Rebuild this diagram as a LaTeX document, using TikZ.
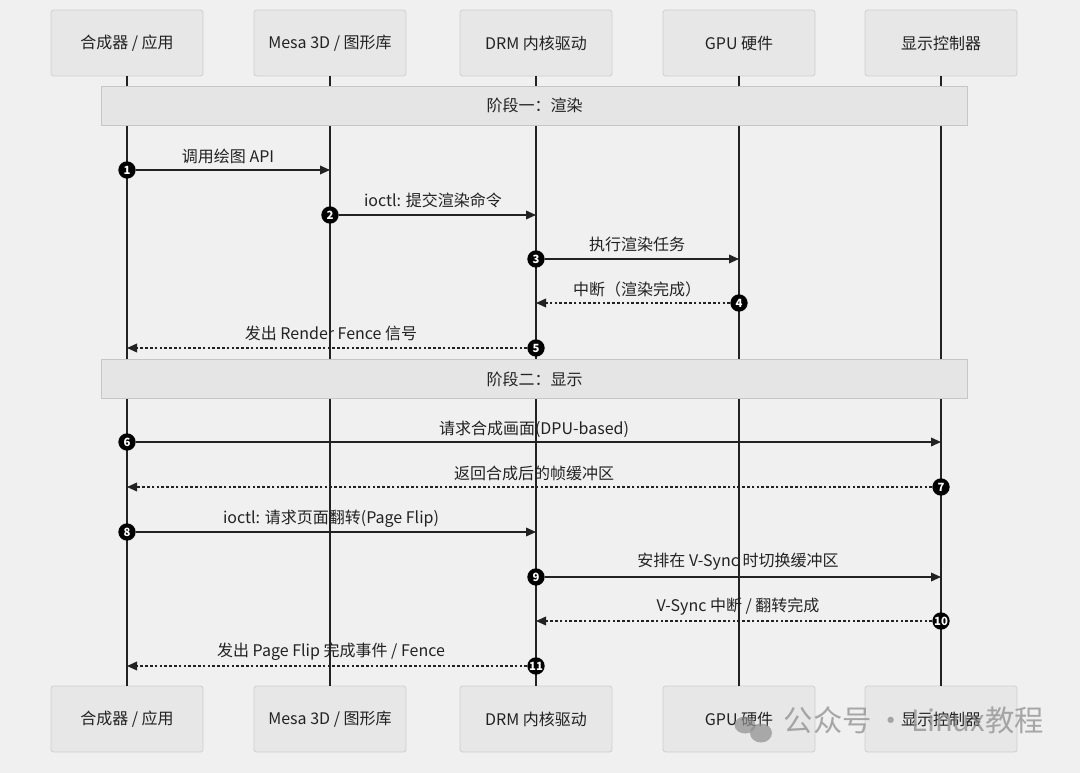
\documentclass[tikz,border=0pt]{standalone}
\usepackage{fontspec}
\setmainfont{Noto Sans CJK SC}
\usetikzlibrary{arrows.meta}
\definecolor{bgc}{HTML}{F0F0F0}
\definecolor{boxfill}{HTML}{E7E7E7}
\definecolor{boxline}{HTML}{CFCFCF}
\definecolor{bandfill}{HTML}{E5E5E5}
\definecolor{bandline}{HTML}{C6C6C6}
\definecolor{ink}{HTML}{222222}
\definecolor{wm}{HTML}{8E8E8E}
\tikzset{
  actor/.style={draw=boxline, fill=boxfill, rounded corners=2pt, minimum width=114pt, minimum height=49.5pt, inner sep=0pt, text=ink, line width=0.6pt},
  band/.style={draw=bandline, fill=bandfill, minimum width=650pt, minimum height=29.25pt, inner sep=0pt, text=ink, line width=0.6pt},
  life/.style={draw=ink, line width=1.1pt},
  msg/.style={draw=ink, line width=1.1pt, -{Triangle[length=7.5pt,width=6.5pt]}},
  rmsg/.style={msg, dash pattern=on 2pt off 1.6pt},
  num/.style={circle, fill=black, text=white, minimum size=13pt, inner sep=0pt, font=\fontsize{8.5}{9}\selectfont\bfseries},
  lbl/.style={text=ink, inner sep=1pt}
}
\begin{document}
\begin{tikzpicture}[x=0.75pt,y=-0.75pt, font=\fontsize{12}{14}\selectfont]
\fill[bgc] (0,0) rectangle (1080,773);
\useasboundingbox (0,0) rectangle (1080,773);

% actors
\node[actor] (t1) at (127,43) {合成器 / 应用};
\node[actor] (t2) at (330,43) {Mesa 3D / 图形库};
\node[actor] (t3) at (536,43) {DRM 内核驱动};
\node[actor] (t4) at (739,43) {GPU 硬件};
\node[actor] (t5) at (941,43) {显示控制器};
\node[actor] (b1) at (127,719) {合成器 / 应用};
\node[actor] (b2) at (330,719) {Mesa 3D / 图形库};
\node[actor] (b3) at (536,719) {DRM 内核驱动};
\node[actor] (b4) at (739,719) {GPU 硬件};
\node[actor] (b5) at (941,719) {显示控制器};

\foreach \i in {1,...,5} { \draw[life] (t\i.south) -- (b\i.north); }

% phase bands
\node[band] (p1) at (534.5,105.5) {阶段一：渲染};
\node[band] (p2) at (534.5,379) {阶段二：显示};

% messages
\coordinate (e1) at (330,170);
\coordinate (e2) at (536,215);
\coordinate (e3) at (739,259);
\coordinate (e4) at (536,303);
\coordinate (e5) at (127,348);
\coordinate (e6) at (941,442);
\coordinate (e7) at (127,487);
\coordinate (e8) at (536,532);
\coordinate (e9) at (941,577);
\coordinate (e10) at (536,621);
\coordinate (e11) at (127,666);

\node[num] (n1) at (127,170) {1};
\node[num] (n2) at (330,215) {2};
\node[num] (n3) at (536,259) {3};
\node[num] (n4) at (739,303) {4};
\node[num] (n5) at (536,348) {5};
\node[num] (n6) at (127,442) {6};
\node[num] (n7) at (941,487) {7};
\node[num] (n8) at (127,532) {8};
\node[num] (n9) at (536,577) {9};
\node[num] (n10) at (941,621) {10};
\node[num] (n11) at (536,666) {11};

\draw[msg] (n1) -- (e1);
\draw[msg] (n2) -- (e2);
\draw[msg] (n3) -- (e3);
\draw[rmsg] (n4) -- (e4);
\draw[rmsg] (n5) -- (e5);
\draw[msg] (n6) -- (e6);
\draw[rmsg] (n7) -- (e7);
\draw[msg] (n8) -- (e8);
\draw[msg] (n9) -- (e9);
\draw[rmsg] (n10) -- (e10);
\draw[rmsg] (n11) -- (e11);

\node[lbl] (l1) at (228,156) {调用绘图 API};
\node[lbl] (l2) at (433,200) {ioctl: 提交渲染命令};
\node[lbl] (l3) at (637,244) {执行渲染任务};
\node[lbl] (l4) at (637,289) {中断（渲染完成）};
\node[lbl] (l5) at (331,333) {发出 Render Fence 信号};
\node[lbl] (l6) at (534,429) {请求合成画面(DPU-based)};
\node[lbl] (l7) at (534,473) {返回合成后的帧缓冲区};
\node[lbl] (l8) at (331,519) {ioctl: 请求页面翻转(Page Flip)};
\node[lbl] (l9) at (738,562) {安排在 V-Sync 时切换缓冲区};
\node[lbl] (l10) at (738,607) {V-Sync 中断 / 翻转完成};
\node[lbl] (l11) at (331,652) {发出 Page Flip 完成事件 / Fence};

% watermark
\fill[wm, opacity=0.7] (745,725) ellipse (10.5 and 8.5);
\fill[wm, opacity=0.7] (761,733) ellipse (11 and 9.5);
\node[text=wm, opacity=0.75, font=\fontsize{22}{24}\selectfont, inner sep=0pt] (wmtext) at (914,720) {公众号\,·\,Linux教程};
\end{tikzpicture}
\end{document}
